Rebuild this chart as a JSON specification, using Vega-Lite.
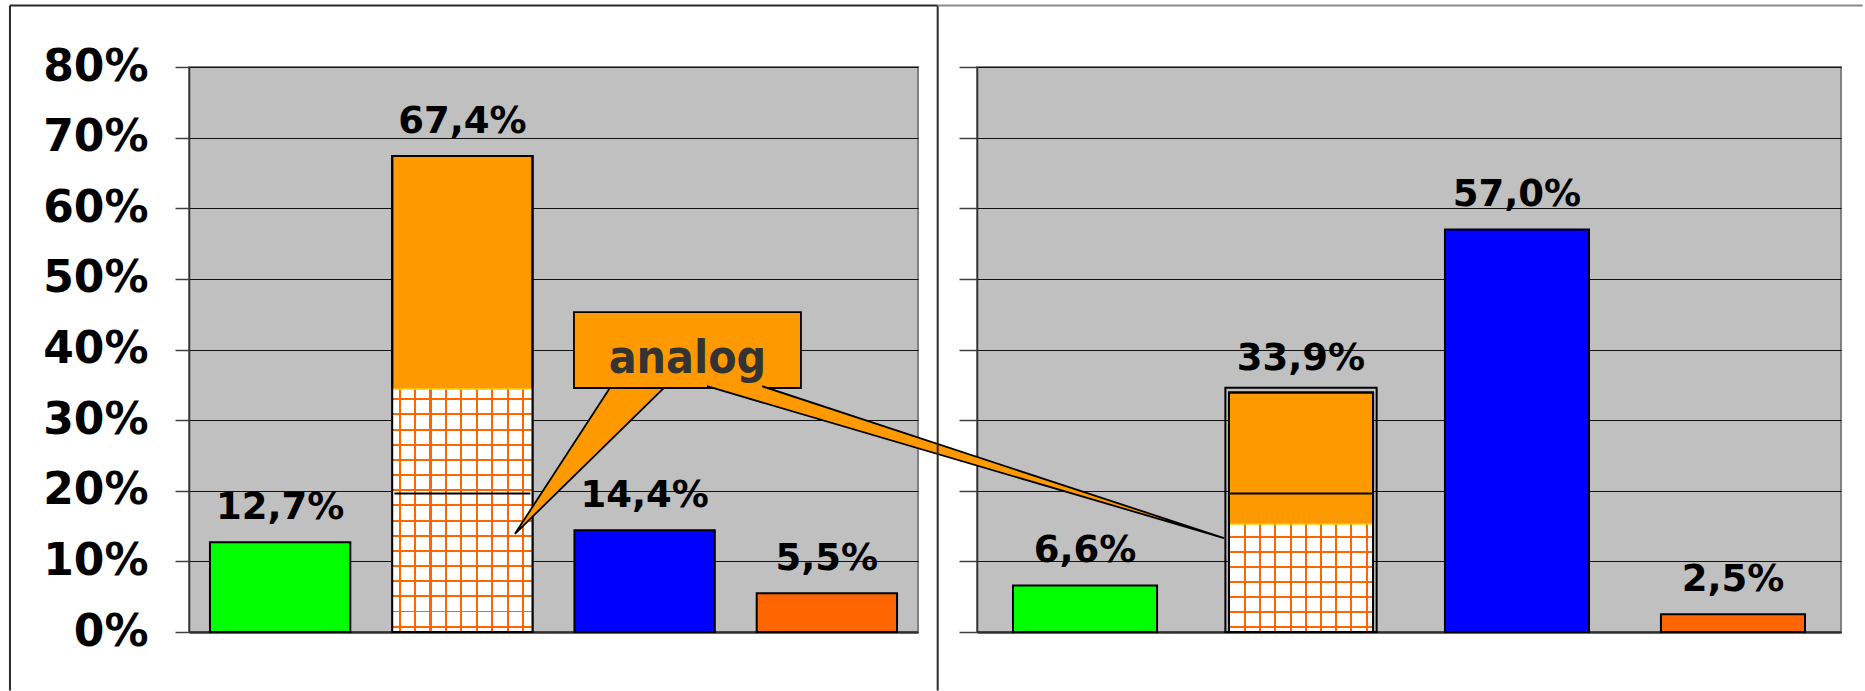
{
  "$schema": "https://vega.github.io/schema/vega-lite/v6.json",
  "padding": {"left": 7, "top": 3, "right": 0, "bottom": 0},
  "autosize": {"type": "pad"},
  "background": "white",
  "bounds": "flush",
  "spacing": 59,
  "config": {
    "view": {"fill": "#C0C0C0", "stroke": "#808080", "strokeWidth": 2},
    "locale": {"number": {"decimal": ",", "thousands": ".", "grouping": [3], "currency": ["", " €"]}},
    "axis": {"title": null}
  },
  "datasets": {
    "bars": [
      {"panel": "L", "cat": "1", "value": 0.127},
      {"panel": "L", "cat": "2", "value": 0.674},
      {"panel": "L", "cat": "3", "value": 0.144},
      {"panel": "L", "cat": "4", "value": 0.055},
      {"panel": "R", "cat": "1", "value": 0.066},
      {"panel": "R", "cat": "2", "value": 0.339},
      {"panel": "R", "cat": "3", "value": 0.570},
      {"panel": "R", "cat": "4", "value": 0.025}
    ],
    "splits": [
      {"panel": "L", "cat": "2", "hatch": 0.344, "divider": 0.196},
      {"panel": "R", "cat": "2", "hatch": 0.153, "divider": 0.196, "frame": 0.346}
    ],
    "callout": [
      {"x": -2.366, "x2": -1.315, "y": 0.453, "y2": 0.3455, "tx": -1.8405, "ty": 0.367, "label": "analog"}
    ],
    "pointers": [
      {"id": "short", "ord": 1, "x": -2.19, "y": 0.35},
      {"id": "short", "ord": 2, "x": -2.639, "y": 0.139},
      {"id": "short", "ord": 3, "x": -1.935, "y": 0.35},
      {"id": "long", "ord": 1, "x": -1.75, "y": 0.348},
      {"id": "long", "ord": 2, "x": 0.6435, "y": 0.133},
      {"id": "long", "ord": 3, "x": -1.495, "y": 0.348}
    ],
    "frames": [
      {"x": -4.977, "x2": -0.682, "y": 0.887, "y2": 0.887, "c": "dark"},
      {"x": -0.682, "x2": 3.6, "y": 0.887, "y2": 0.887, "c": "light"},
      {"x": -4.977, "x2": -4.977, "y": 0.887, "y2": -0.083, "c": "dark"},
      {"x": -0.682, "x2": -0.682, "y": 0.887, "y2": -0.083, "c": "dark"}
    ]
  },
  "hconcat": [
    {
      "width": 729,
      "height": 565,
      "layer": [
        {
          "data": {"name": "bars"},
          "transform": [{"filter": "datum.panel === 'L'"}],
          "mark": {"type": "bar", "stroke": "#000000", "strokeWidth": 2},
          "encoding": {
            "x": {"field": "cat", "type": "nominal", "scale": {"domain": ["1", "2", "3", "4"], "paddingInner": 0.23, "paddingOuter": 0.115},
                  "axis": {"labels": false, "ticks": false, "grid": false, "domainColor": "#303030", "domainWidth": 2.5, "title": null}},
            "y": {"field": "value", "type": "quantitative", "scale": {"domain": [0, 0.8], "nice": false},
                  "axis": {"values": [0, 0.1, 0.2, 0.3, 0.4, 0.5, 0.6, 0.7, 0.8], "format": ".0%", "labelFont": "DejaVu Sans", "labelFontWeight": "bold", "labelFontSize": 44, "labelColor": "#000000", "labelPadding": 27, "tickSize": 14, "tickColor": "#404040", "tickWidth": 1.5, "domainColor": "#303030", "domainWidth": 1.5, "grid": true, "gridColor": "#111111", "gridWidth": 1, "title": null}},
            "color": {"field": "cat", "type": "nominal", "scale": {"domain": ["1", "2", "3", "4"], "range": ["#00FF00", "#FF9900", "#0000FF", "#FF6600"]}, "legend": null}
          }
        },
        {
          "data": {"name": "splits"},
          "transform": [{"filter": "datum.panel === 'L'"}],
          "mark": {"type": "bar", "stroke": "#FFCC00", "strokeWidth": 1.5,
            "fill": {"gradient": "linear", "x1": 0, "y1": 0, "x2": 1, "y2": 0, "stops": [
              {"offset": 0, "color": "#FFFFFF"},
              {"offset": 0.0455, "color": "#FFFFFF"}, {"offset": 0.0455, "color": "#FF6600"}, {"offset": 0.0605, "color": "#FF6600"}, {"offset": 0.0605, "color": "#FFFFFF"},
              {"offset": 0.1555, "color": "#FFFFFF"}, {"offset": 0.1555, "color": "#FF6600"}, {"offset": 0.1705, "color": "#FF6600"}, {"offset": 0.1705, "color": "#FFFFFF"},
              {"offset": 0.2655, "color": "#FFFFFF"}, {"offset": 0.2655, "color": "#FF6600"}, {"offset": 0.2805, "color": "#FF6600"}, {"offset": 0.2805, "color": "#FFFFFF"},
              {"offset": 0.3755, "color": "#FFFFFF"}, {"offset": 0.3755, "color": "#FF6600"}, {"offset": 0.3905, "color": "#FF6600"}, {"offset": 0.3905, "color": "#FFFFFF"},
              {"offset": 0.4855, "color": "#FFFFFF"}, {"offset": 0.4855, "color": "#FF6600"}, {"offset": 0.5005, "color": "#FF6600"}, {"offset": 0.5005, "color": "#FFFFFF"},
              {"offset": 0.5955, "color": "#FFFFFF"}, {"offset": 0.5955, "color": "#FF6600"}, {"offset": 0.6105, "color": "#FF6600"}, {"offset": 0.6105, "color": "#FFFFFF"},
              {"offset": 0.7055, "color": "#FFFFFF"}, {"offset": 0.7055, "color": "#FF6600"}, {"offset": 0.7205, "color": "#FF6600"}, {"offset": 0.7205, "color": "#FFFFFF"},
              {"offset": 0.8155, "color": "#FFFFFF"}, {"offset": 0.8155, "color": "#FF6600"}, {"offset": 0.8305, "color": "#FF6600"}, {"offset": 0.8305, "color": "#FFFFFF"},
              {"offset": 0.9255, "color": "#FFFFFF"}, {"offset": 0.9255, "color": "#FF6600"}, {"offset": 0.9405, "color": "#FF6600"}, {"offset": 0.9405, "color": "#FFFFFF"},
              {"offset": 1, "color": "#FFFFFF"}
            ]}},
          "encoding": {
            "x": {"field": "cat", "type": "nominal", "scale": {"domain": ["1", "2", "3", "4"], "paddingInner": 0.23, "paddingOuter": 0.115}, "title": null},
            "y": {"field": "hatch", "type": "quantitative", "scale": {"domain": [0, 0.8], "nice": false}, "title": null}
          }
        },
        {
          "data": {"name": "splits"},
          "transform": [{"filter": "datum.panel === 'L'"}],
          "mark": {"type": "bar",
            "fill": {"gradient": "linear", "x1": 0, "y1": 0, "x2": 0, "y2": 1, "stops": [
              {"offset": 0, "color": "rgba(255,102,0,0)"},
              {"offset": 0.038, "color": "rgba(255,102,0,0)"}, {"offset": 0.038, "color": "#FF6600"}, {"offset": 0.046, "color": "#FF6600"}, {"offset": 0.046, "color": "rgba(255,102,0,0)"},
              {"offset": 0.1004, "color": "rgba(255,102,0,0)"}, {"offset": 0.1004, "color": "#FF6600"}, {"offset": 0.1084, "color": "#FF6600"}, {"offset": 0.1084, "color": "rgba(255,102,0,0)"},
              {"offset": 0.1628, "color": "rgba(255,102,0,0)"}, {"offset": 0.1628, "color": "#FF6600"}, {"offset": 0.1708, "color": "#FF6600"}, {"offset": 0.1708, "color": "rgba(255,102,0,0)"},
              {"offset": 0.2252, "color": "rgba(255,102,0,0)"}, {"offset": 0.2252, "color": "#FF6600"}, {"offset": 0.2332, "color": "#FF6600"}, {"offset": 0.2332, "color": "rgba(255,102,0,0)"},
              {"offset": 0.2876, "color": "rgba(255,102,0,0)"}, {"offset": 0.2876, "color": "#FF6600"}, {"offset": 0.2956, "color": "#FF6600"}, {"offset": 0.2956, "color": "rgba(255,102,0,0)"},
              {"offset": 0.35, "color": "rgba(255,102,0,0)"}, {"offset": 0.35, "color": "#FF6600"}, {"offset": 0.358, "color": "#FF6600"}, {"offset": 0.358, "color": "rgba(255,102,0,0)"},
              {"offset": 0.4124, "color": "rgba(255,102,0,0)"}, {"offset": 0.4124, "color": "#FF6600"}, {"offset": 0.4204, "color": "#FF6600"}, {"offset": 0.4204, "color": "rgba(255,102,0,0)"},
              {"offset": 0.4748, "color": "rgba(255,102,0,0)"}, {"offset": 0.4748, "color": "#FF6600"}, {"offset": 0.4828, "color": "#FF6600"}, {"offset": 0.4828, "color": "rgba(255,102,0,0)"},
              {"offset": 0.5372, "color": "rgba(255,102,0,0)"}, {"offset": 0.5372, "color": "#FF6600"}, {"offset": 0.5452, "color": "#FF6600"}, {"offset": 0.5452, "color": "rgba(255,102,0,0)"},
              {"offset": 0.5996, "color": "rgba(255,102,0,0)"}, {"offset": 0.5996, "color": "#FF6600"}, {"offset": 0.6076, "color": "#FF6600"}, {"offset": 0.6076, "color": "rgba(255,102,0,0)"},
              {"offset": 0.662, "color": "rgba(255,102,0,0)"}, {"offset": 0.662, "color": "#FF6600"}, {"offset": 0.670, "color": "#FF6600"}, {"offset": 0.670, "color": "rgba(255,102,0,0)"},
              {"offset": 0.7244, "color": "rgba(255,102,0,0)"}, {"offset": 0.7244, "color": "#FF6600"}, {"offset": 0.7324, "color": "#FF6600"}, {"offset": 0.7324, "color": "rgba(255,102,0,0)"},
              {"offset": 0.7868, "color": "rgba(255,102,0,0)"}, {"offset": 0.7868, "color": "#FF6600"}, {"offset": 0.7948, "color": "#FF6600"}, {"offset": 0.7948, "color": "rgba(255,102,0,0)"},
              {"offset": 0.8492, "color": "rgba(255,102,0,0)"}, {"offset": 0.8492, "color": "#FF6600"}, {"offset": 0.8572, "color": "#FF6600"}, {"offset": 0.8572, "color": "rgba(255,102,0,0)"},
              {"offset": 0.9116, "color": "rgba(255,102,0,0)"}, {"offset": 0.9116, "color": "#FF6600"}, {"offset": 0.9196, "color": "#FF6600"}, {"offset": 0.9196, "color": "rgba(255,102,0,0)"},
              {"offset": 0.974, "color": "rgba(255,102,0,0)"}, {"offset": 0.974, "color": "#FF6600"}, {"offset": 0.982, "color": "#FF6600"}, {"offset": 0.982, "color": "rgba(255,102,0,0)"},
              {"offset": 1, "color": "rgba(255,102,0,0)"}
            ]}},
          "encoding": {
            "x": {"field": "cat", "type": "nominal", "scale": {"domain": ["1", "2", "3", "4"], "paddingInner": 0.23, "paddingOuter": 0.115}, "title": null},
            "y": {"field": "hatch", "type": "quantitative", "scale": {"domain": [0, 0.8], "nice": false}, "title": null}
          }
        },
        {
          "data": {"name": "bars"},
          "transform": [{"filter": "datum.panel === 'L' && datum.cat === '2'"}],
          "mark": {"type": "bar", "filled": false, "stroke": "#000000", "strokeWidth": 2},
          "encoding": {
            "x": {"field": "cat", "type": "nominal", "scale": {"domain": ["1", "2", "3", "4"], "paddingInner": 0.23, "paddingOuter": 0.115}, "title": null},
            "y": {"field": "value", "type": "quantitative", "scale": {"domain": [0, 0.8], "nice": false}, "title": null}
          }
        },
        {
          "data": {"name": "splits"},
          "transform": [{"filter": "datum.panel === 'L'"}],
          "mark": {"type": "tick", "color": "#000000", "thickness": 2, "size": 136, "opacity": 1},
          "encoding": {
            "x": {"field": "cat", "type": "nominal", "scale": {"domain": ["1", "2", "3", "4"], "paddingInner": 0.23, "paddingOuter": 0.115}, "title": null},
            "y": {"field": "divider", "type": "quantitative", "scale": {"domain": [0, 0.8], "nice": false}, "title": null}
          }
        },
        {
          "data": {"name": "bars"},
          "transform": [{"filter": "datum.panel === 'L'"}],
          "mark": {"type": "text", "dy": -23, "baseline": "alphabetic", "align": "center", "font": "DejaVu Sans", "fontWeight": "bold", "fontSize": 37, "color": "#000000"},
          "encoding": {
            "x": {"field": "cat", "type": "nominal", "scale": {"domain": ["1", "2", "3", "4"], "paddingInner": 0.23, "paddingOuter": 0.115}, "title": null},
            "y": {"field": "value", "type": "quantitative", "scale": {"domain": [0, 0.8], "nice": false}, "title": null},
            "text": {"field": "value", "type": "quantitative", "format": ".1%"}
          }
        }
      ]
    },
    {
      "width": 864,
      "height": 565,
      "resolve": {"scale": {"x": "independent"}, "axis": {"x": "independent"}},
      "layer": [
        {
          "layer": [
            {
              "data": {"name": "bars"},
              "transform": [{"filter": "datum.panel === 'R'"}],
              "mark": {"type": "bar", "stroke": "#000000", "strokeWidth": 2},
              "encoding": {
                "x": {"field": "cat", "type": "nominal", "scale": {"domain": ["1", "2", "3", "4"], "paddingInner": 0.333, "paddingOuter": 0.1667},
                      "axis": {"labels": false, "ticks": false, "grid": false, "domainColor": "#303030", "domainWidth": 2.5, "title": null}},
                "y": {"field": "value", "type": "quantitative", "scale": {"domain": [0, 0.8], "nice": false},
                      "axis": {"values": [0, 0.1, 0.2, 0.3, 0.4, 0.5, 0.6, 0.7, 0.8], "labels": false, "tickSize": 18, "tickColor": "#404040", "tickWidth": 1.5, "domainColor": "#303030", "domainWidth": 1.5, "grid": true, "gridColor": "#111111", "gridWidth": 1, "title": null}},
                "color": {"field": "cat", "type": "nominal", "scale": {"domain": ["1", "2", "3", "4"], "range": ["#00FF00", "#FF9900", "#0000FF", "#FF6600"]}, "legend": null}
              }
            },
            {
              "data": {"name": "splits"},
              "transform": [{"filter": "datum.panel === 'R'"}],
              "mark": {"type": "bar", "stroke": "#FFCC00", "strokeWidth": 1.5,
                "fill": {"gradient": "linear", "x1": 0, "y1": 0, "x2": 1, "y2": 0, "stops": [
                  {"offset": 0, "color": "#FFFFFF"},
                  {"offset": 0.104, "color": "#FFFFFF"}, {"offset": 0.104, "color": "#FF6600"}, {"offset": 0.118, "color": "#FF6600"}, {"offset": 0.118, "color": "#FFFFFF"},
                  {"offset": 0.2096, "color": "#FFFFFF"}, {"offset": 0.2096, "color": "#FF6600"}, {"offset": 0.2236, "color": "#FF6600"}, {"offset": 0.2236, "color": "#FFFFFF"},
                  {"offset": 0.3152, "color": "#FFFFFF"}, {"offset": 0.3152, "color": "#FF6600"}, {"offset": 0.3292, "color": "#FF6600"}, {"offset": 0.3292, "color": "#FFFFFF"},
                  {"offset": 0.4208, "color": "#FFFFFF"}, {"offset": 0.4208, "color": "#FF6600"}, {"offset": 0.4348, "color": "#FF6600"}, {"offset": 0.4348, "color": "#FFFFFF"},
                  {"offset": 0.5264, "color": "#FFFFFF"}, {"offset": 0.5264, "color": "#FF6600"}, {"offset": 0.5404, "color": "#FF6600"}, {"offset": 0.5404, "color": "#FFFFFF"},
                  {"offset": 0.632, "color": "#FFFFFF"}, {"offset": 0.632, "color": "#FF6600"}, {"offset": 0.646, "color": "#FF6600"}, {"offset": 0.646, "color": "#FFFFFF"},
                  {"offset": 0.7376, "color": "#FFFFFF"}, {"offset": 0.7376, "color": "#FF6600"}, {"offset": 0.7516, "color": "#FF6600"}, {"offset": 0.7516, "color": "#FFFFFF"},
                  {"offset": 0.8432, "color": "#FFFFFF"}, {"offset": 0.8432, "color": "#FF6600"}, {"offset": 0.8572, "color": "#FF6600"}, {"offset": 0.8572, "color": "#FFFFFF"},
                  {"offset": 0.9488, "color": "#FFFFFF"}, {"offset": 0.9488, "color": "#FF6600"}, {"offset": 0.9628, "color": "#FF6600"}, {"offset": 0.9628, "color": "#FFFFFF"},
                  {"offset": 1, "color": "#FFFFFF"}
                ]}},
              "encoding": {
                "x": {"field": "cat", "type": "nominal", "scale": {"domain": ["1", "2", "3", "4"], "paddingInner": 0.333, "paddingOuter": 0.1667}, "title": null},
                "y": {"field": "hatch", "type": "quantitative", "scale": {"domain": [0, 0.8], "nice": false}, "title": null}
              }
            },
            {
              "data": {"name": "splits"},
              "transform": [{"filter": "datum.panel === 'R'"}],
              "mark": {"type": "bar",
                "fill": {"gradient": "linear", "x1": 0, "y1": 0, "x2": 0, "y2": 1, "stops": [
                  {"offset": 0, "color": "rgba(255,102,0,0)"},
                  {"offset": 0.1087, "color": "rgba(255,102,0,0)"}, {"offset": 0.1087, "color": "#FF6600"}, {"offset": 0.1273, "color": "#FF6600"}, {"offset": 0.1273, "color": "rgba(255,102,0,0)"},
                  {"offset": 0.2477, "color": "rgba(255,102,0,0)"}, {"offset": 0.2477, "color": "#FF6600"}, {"offset": 0.2663, "color": "#FF6600"}, {"offset": 0.2663, "color": "rgba(255,102,0,0)"},
                  {"offset": 0.3867, "color": "rgba(255,102,0,0)"}, {"offset": 0.3867, "color": "#FF6600"}, {"offset": 0.4053, "color": "#FF6600"}, {"offset": 0.4053, "color": "rgba(255,102,0,0)"},
                  {"offset": 0.5257, "color": "rgba(255,102,0,0)"}, {"offset": 0.5257, "color": "#FF6600"}, {"offset": 0.5443, "color": "#FF6600"}, {"offset": 0.5443, "color": "rgba(255,102,0,0)"},
                  {"offset": 0.6647, "color": "rgba(255,102,0,0)"}, {"offset": 0.6647, "color": "#FF6600"}, {"offset": 0.6833, "color": "#FF6600"}, {"offset": 0.6833, "color": "rgba(255,102,0,0)"},
                  {"offset": 0.8037, "color": "rgba(255,102,0,0)"}, {"offset": 0.8037, "color": "#FF6600"}, {"offset": 0.8223, "color": "#FF6600"}, {"offset": 0.8223, "color": "rgba(255,102,0,0)"},
                  {"offset": 0.9427, "color": "rgba(255,102,0,0)"}, {"offset": 0.9427, "color": "#FF6600"}, {"offset": 0.9613, "color": "#FF6600"}, {"offset": 0.9613, "color": "rgba(255,102,0,0)"},
                  {"offset": 1, "color": "rgba(255,102,0,0)"}
                ]}},
              "encoding": {
                "x": {"field": "cat", "type": "nominal", "scale": {"domain": ["1", "2", "3", "4"], "paddingInner": 0.333, "paddingOuter": 0.1667}, "title": null},
                "y": {"field": "hatch", "type": "quantitative", "scale": {"domain": [0, 0.8], "nice": false}, "title": null}
              }
            },
            {
              "data": {"name": "bars"},
              "transform": [{"filter": "datum.panel === 'R' && datum.cat === '2'"}],
              "mark": {"type": "bar", "filled": false, "stroke": "#000000", "strokeWidth": 2},
              "encoding": {
                "x": {"field": "cat", "type": "nominal", "scale": {"domain": ["1", "2", "3", "4"], "paddingInner": 0.333, "paddingOuter": 0.1667}, "title": null},
                "y": {"field": "value", "type": "quantitative", "scale": {"domain": [0, 0.8], "nice": false}, "title": null}
              }
            },
            {
              "data": {"name": "splits"},
              "transform": [{"filter": "datum.panel === 'R'"}],
              "mark": {"type": "bar", "filled": false, "stroke": "#000000", "strokeWidth": 2, "width": {"band": 1.05}},
              "encoding": {
                "x": {"field": "cat", "type": "nominal", "scale": {"domain": ["1", "2", "3", "4"], "paddingInner": 0.333, "paddingOuter": 0.1667}, "title": null},
                "y": {"field": "frame", "type": "quantitative", "scale": {"domain": [0, 0.8], "nice": false}, "title": null}
              }
            },
            {
              "data": {"name": "splits"},
              "transform": [{"filter": "datum.panel === 'R'"}],
              "mark": {"type": "tick", "color": "#000000", "thickness": 2, "size": 146, "opacity": 1},
              "encoding": {
                "x": {"field": "cat", "type": "nominal", "scale": {"domain": ["1", "2", "3", "4"], "paddingInner": 0.333, "paddingOuter": 0.1667}, "title": null},
                "y": {"field": "divider", "type": "quantitative", "scale": {"domain": [0, 0.8], "nice": false}, "title": null}
              }
            },
            {
              "data": {"name": "bars"},
              "transform": [{"filter": "datum.panel === 'R'"}],
              "mark": {"type": "text", "dy": -23, "baseline": "alphabetic", "align": "center", "font": "DejaVu Sans", "fontWeight": "bold", "fontSize": 37, "color": "#000000"},
              "encoding": {
                "x": {"field": "cat", "type": "nominal", "scale": {"domain": ["1", "2", "3", "4"], "paddingInner": 0.333, "paddingOuter": 0.1667}, "title": null},
                "y": {"field": "value", "type": "quantitative", "scale": {"domain": [0, 0.8], "nice": false}, "title": null},
                "text": {"field": "value", "type": "quantitative", "format": ".1%"}
              }
            }
          ]
        },
        {
          "layer": [
            {
              "data": {"name": "pointers"},
              "transform": [{"filter": "datum.id === 'short'"}],
              "mark": {"type": "line", "fill": "#FF9900", "stroke": "#000000", "strokeWidth": 1.8, "strokeJoin": "miter"},
              "encoding": {
                "x": {"field": "x", "type": "quantitative", "scale": {"domain": [-0.5, 3.5], "nice": false, "zero": false}, "axis": null},
                "y": {"field": "y", "type": "quantitative", "scale": {"domain": [0, 0.8], "nice": false}, "title": null},
                "order": {"field": "ord", "type": "quantitative"}
              }
            },
            {
              "data": {"name": "callout"},
              "mark": {"type": "rect", "fill": "#FF9900", "stroke": "#000000", "strokeWidth": 1.8},
              "encoding": {
                "x": {"field": "x", "type": "quantitative", "scale": {"domain": [-0.5, 3.5], "nice": false, "zero": false}, "axis": null},
                "x2": {"field": "x2"},
                "y": {"field": "y", "type": "quantitative", "scale": {"domain": [0, 0.8], "nice": false}, "title": null},
                "y2": {"field": "y2"}
              }
            },
            {
              "data": {"name": "pointers"},
              "transform": [{"filter": "datum.id === 'long'"}],
              "mark": {"type": "line", "fill": "#FF9900", "stroke": "#000000", "strokeWidth": 1.8, "strokeJoin": "miter"},
              "encoding": {
                "x": {"field": "x", "type": "quantitative", "scale": {"domain": [-0.5, 3.5], "nice": false, "zero": false}, "axis": null},
                "y": {"field": "y", "type": "quantitative", "scale": {"domain": [0, 0.8], "nice": false}, "title": null},
                "order": {"field": "ord", "type": "quantitative"}
              }
            },
            {
              "data": {"name": "callout"},
              "mark": {"type": "text", "font": "DejaVu Sans Condensed, DejaVu Sans", "fontWeight": "bold", "fontSize": 46, "color": "#333333", "baseline": "alphabetic", "align": "center"},
              "encoding": {
                "x": {"field": "tx", "type": "quantitative", "scale": {"domain": [-0.5, 3.5], "nice": false, "zero": false}, "axis": null},
                "y": {"field": "ty", "type": "quantitative", "scale": {"domain": [0, 0.8], "nice": false}, "title": null},
                "text": {"field": "label"}
              }
            },
            {
              "data": {"name": "frames"},
              "transform": [{"filter": "datum.c === 'dark'"}],
              "mark": {"type": "rule", "strokeWidth": 2, "color": "#2A2A2A"},
              "encoding": {
                "x": {"field": "x", "type": "quantitative", "scale": {"domain": [-0.5, 3.5], "nice": false, "zero": false}, "axis": null},
                "x2": {"field": "x2"},
                "y": {"field": "y", "type": "quantitative", "scale": {"domain": [0, 0.8], "nice": false}, "title": null},
                "y2": {"field": "y2"}
              }
            },
            {
              "data": {"name": "frames"},
              "transform": [{"filter": "datum.c === 'light'"}],
              "mark": {"type": "rule", "strokeWidth": 2, "color": "#8A8A8A"},
              "encoding": {
                "x": {"field": "x", "type": "quantitative", "scale": {"domain": [-0.5, 3.5], "nice": false, "zero": false}, "axis": null},
                "x2": {"field": "x2"},
                "y": {"field": "y", "type": "quantitative", "scale": {"domain": [0, 0.8], "nice": false}, "title": null},
                "y2": {"field": "y2"}
              }
            }
          ]
        }
      ]
    }
  ]
}
